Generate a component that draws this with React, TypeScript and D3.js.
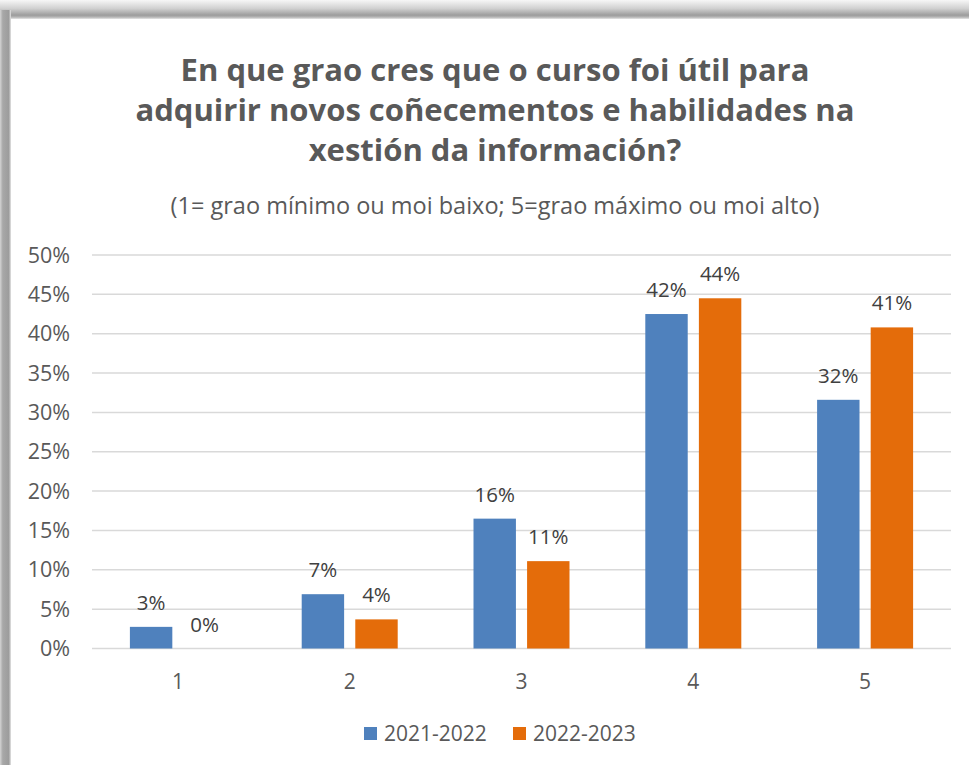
import React from 'react';
import * as d3 from 'd3';

// valores (porcentaxes)
const categories = ['1', '2', '3', '4', '5'];
const seriesNames = ['2021-2022', '2022-2023'];
const values2122 = [2.75, 6.9, 16.5, 42.5, 31.6];
const values2223 = [0, 3.7, 11.1, 44.5, 40.8];
const labels2122 = ['3%', '7%', '16%', '42%', '32%'];
const labels2223 = ['0%', '4%', '11%', '44%', '41%'];
const yTicks = [0, 5, 10, 15, 20, 25, 30, 35, 40, 45, 50];
const titleLines = [
  'En que grao cres que o curso foi útil para',
  'adquirir novos coñecementos e habilidades na',
  'xestión da información?',
];
const subtitle = '(1= grao mínimo ou moi baixo; 5=grao máximo ou moi alto)';

const colors = ['#4F81BD', '#E46C0A'];
const textColor = '#595959';
const font = '"Open Sans", Lato, sans-serif';

const W = 969;
const H = 765;

const App: React.FC = () => {
  const plot = { left: 92, right: 951, top: 255, bottom: 648.5 };

  const x0 = d3.scaleBand<string>().domain(categories).range([plot.left, plot.right]);
  const bw = x0.bandwidth();
  const x1 = d3
    .scaleBand<string>()
    .domain(seriesNames)
    .range([bw / 2 - 48, bw / 2 + 48])
    .paddingInner(10 / 48);
  const y = d3.scaleLinear().domain([0, 50]).range([plot.bottom, plot.top]);

  const series = [
    { name: seriesNames[0], values: values2122, labels: labels2122, color: colors[0] },
    { name: seriesNames[1], values: values2223, labels: labels2223, color: colors[1] },
  ];

  return (
    <svg
      width={W}
      height={H}
      style={{ position: 'absolute', left: 0, top: 0, display: 'block' }}
      fontFamily={font}
    >
      <defs>
        <linearGradient id="topShadow" x1="0" y1="0" x2="0" y2="1">
          <stop offset="0" stopColor="#f7f7f7" />
          <stop offset="0.45" stopColor="#d0d0d0" />
          <stop offset="0.8" stopColor="#9c9c9c" />
          <stop offset="0.9" stopColor="#b4b4b4" />
          <stop offset="1" stopColor="#e6e6e6" />
        </linearGradient>
        <linearGradient id="leftShadow" x1="0" y1="0" x2="1" y2="0">
          <stop offset="0" stopColor="#d4d4d4" />
          <stop offset="0.25" stopColor="#a8a8a8" />
          <stop offset="0.8" stopColor="#9c9c9c" />
          <stop offset="1" stopColor="#e6e6e6" />
        </linearGradient>
      </defs>

      {/* marco con sombra */}
      <rect x={0} y={0} width={W} height={H} fill="#ffffff" />
      <rect x={0} y={0} width={W} height={19} fill="url(#topShadow)" />
      <rect x={0} y={10} width={11} height={H - 10} fill="url(#leftShadow)" />
      <rect x={11} y={19} width={W - 11} height={H - 19} fill="#ffffff" />

      {/* título */}
      {titleLines.map((t, i) => (
        <text
          key={i}
          x={495}
          y={81 + i * 40}
          textAnchor="middle"
          fontSize={31}
          fontWeight="bold"
          fill={textColor}
        >
          {t}
        </text>
      ))}
      <text x={495} y={214} textAnchor="middle" fontSize={23.5} fill={textColor}>
        {subtitle}
      </text>

      {/* grella e eixo Y */}
      {yTicks.map((t) => (
        <g key={t}>
          <line
            x1={plot.left}
            x2={plot.right}
            y1={y(t)}
            y2={y(t)}
            stroke="#d9d9d9"
            strokeWidth={1.5}
          />
          <text
            x={70}
            y={y(t)}
            dy="0.35em"
            textAnchor="end"
            fontSize={21.5}
            fill={textColor}
          >
            {t}%
          </text>
        </g>
      ))}

      {/* barras */}
      {series.map((s) =>
        categories.map((c, i) => {
          const bx = (x0(c) || 0) + (x1(s.name) || 0);
          const by = y(s.values[i]);
          return (
            <g key={s.name + c}>
              <rect
                x={bx}
                y={by}
                width={x1.bandwidth()}
                height={plot.bottom - by}
                fill={s.color}
              />
              <text
                x={bx + x1.bandwidth() / 2}
                y={by - 17}
                textAnchor="middle"
                fontSize={20.5}
                fill="#404040"
              >
                {s.labels[i]}
              </text>
            </g>
          );
        })
      )}

      {/* eixo X */}
      {categories.map((c) => (
        <text
          key={c}
          x={(x0(c) || 0) + bw / 2}
          y={689}
          textAnchor="middle"
          fontSize={21}
          fill={textColor}
        >
          {c}
        </text>
      ))}

      {/* lenda */}
      {series.map((s, i) => {
        const lx = i === 0 ? 364 : 513;
        return (
          <g key={s.name}>
            <rect x={lx} y={727} width={13} height={13} fill={s.color} />
            <text x={lx + 20} y={741} fontSize={21} fill={textColor}>
              {s.name}
            </text>
          </g>
        );
      })}
    </svg>
  );
};

export default App;
